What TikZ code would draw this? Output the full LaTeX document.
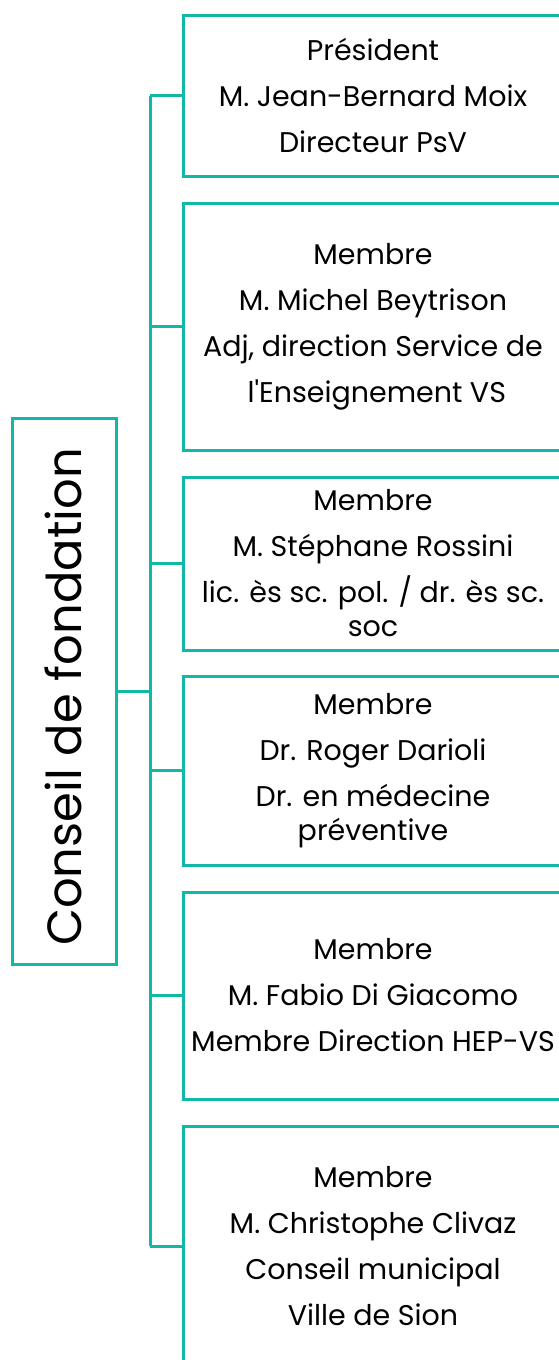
\documentclass[tikz,border=0pt]{standalone}
\usepackage{fontspec}
\setmainfont{Poppins}[Ligatures=ResetAll]
\usetikzlibrary{positioning}
\definecolor{teal1}{RGB}{19,183,167}

\begin{document}
\begin{tikzpicture}[x=1pt,y=-1pt,line width=3pt]
  \tikzstyle{box}=[draw=teal1,rectangle,minimum width=380pt,align=center,
    inner sep=0pt,font=\fontsize{28.5}{46}\selectfont]
  \tikzstyle{link}=[draw=teal1]
  \useasboundingbox (0,0) rectangle (559,1360);

  \node[draw=teal1,minimum width=104pt,minimum height=546pt] (cf) at (64,691) {};
  \node[rotate=90,font=\fontsize{48}{50}\selectfont] (cft) at (63,697) {Conseil de fondation};

  \node[box,minimum height=161pt] (pr) at (373,95.5)
    {Président\\M. Jean-Bernard Moix\\Directeur PsV};
  \node[box,minimum height=247pt] (m1) at (373,326.5)
    {Membre\\M. Michel Beytrison\\Adj, direction Service de\\~l\textquotesingle Enseignement VS};
  \node[box,minimum height=173pt] (m2) at (373,563.5)
    {Membre\\M. Stéphane Rossini\\lic. ès sc. pol. / dr. ès sc.\\[-12pt]soc};
  \node[box,minimum height=189pt] (m3) at (373,770.5)
    {Membre\\Dr. Roger Darioli\\Dr. en médecine\\[-12pt]préventive};
  \node[box,minimum height=207pt] (m4) at (373,995.5)
    {Membre\\M. Fabio Di Giacomo\\Membre Direction HEP-VS};
  \node[box,minimum height=240pt] (m5) at (373,1246)
    {Membre\\M. Christophe Clivaz\\Conseil municipal\\Ville de Sion};

  % bus
  \coordinate (bus) at (150,0);
  \path[link] (pr.west -| bus) -- (m5.west -| bus);
  \path[link] (cf.east) -- (cf.east -| bus);
  \foreach \n in {pr,m1,m2,m3,m4,m5}
    \path[link] (\n.west -| bus) -- (\n.west);
\end{tikzpicture}
\end{document}
